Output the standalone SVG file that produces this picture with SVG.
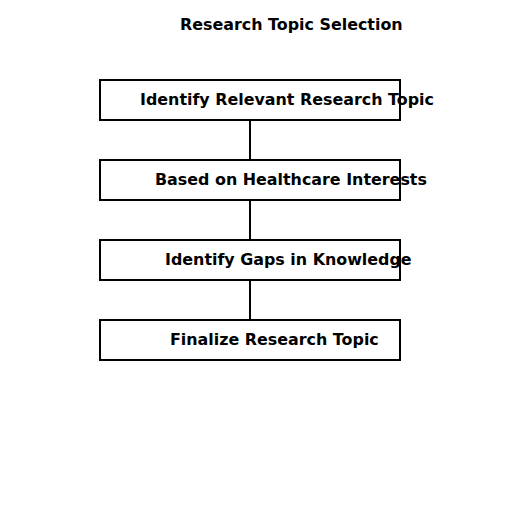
<svg xmlns="http://www.w3.org/2000/svg" width="512" height="512" viewBox="0 0 512 512">
<style>
.box{fill:#fff;stroke:#000;stroke-width:2}
.lbl{font-family:"DejaVu Sans",sans-serif;font-weight:bold;font-size:15.9px;fill:#000}
.con{stroke:#000;stroke-width:2;fill:none}
</style>
<rect width="512" height="512" fill="#fff"/>
<text class="lbl" x="180" y="30">Research Topic Selection</text>
<g id="connectors">
<line class="con" x1="250" y1="120" x2="250" y2="160"/>
<line class="con" x1="250" y1="200" x2="250" y2="240"/>
<line class="con" x1="250" y1="280" x2="250" y2="320"/>
</g>
<g id="n1"><rect class="box" x="100" y="80" width="300" height="40"/><text class="lbl" x="140" y="105">Identify Relevant Research Topic</text></g>
<g id="n2"><rect class="box" x="100" y="160" width="300" height="40"/><text class="lbl" x="155" y="185">Based on Healthcare Interests</text></g>
<g id="n3"><rect class="box" x="100" y="240" width="300" height="40"/><text class="lbl" x="165" y="265">Identify Gaps in Knowledge</text></g>
<g id="n4"><rect class="box" x="100" y="320" width="300" height="40"/><text class="lbl" x="170" y="345">Finalize Research Topic</text></g>
</svg>
